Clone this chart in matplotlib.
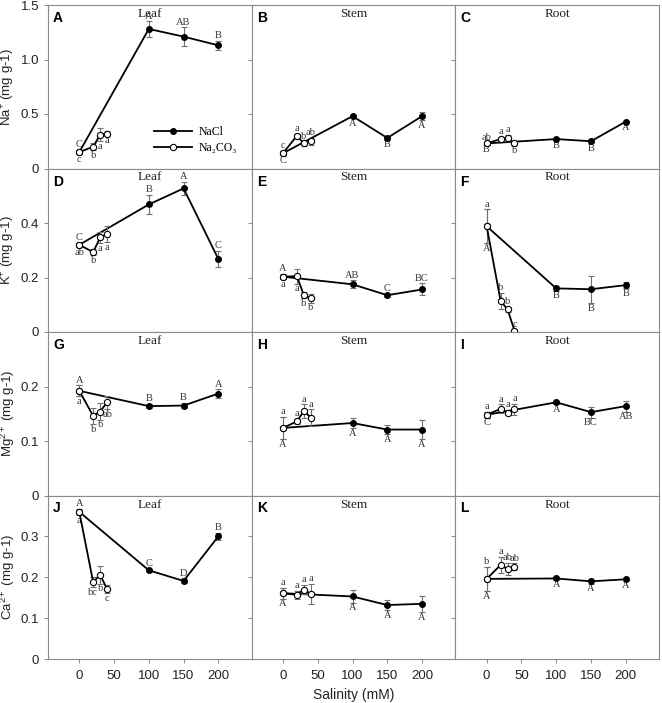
import matplotlib
matplotlib.use('Agg')
import matplotlib.pyplot as plt
from matplotlib.ticker import FuncFormatter

plt.rcParams['font.family'] = ['Liberation Sans', 'DejaVu Sans']
plt.rcParams['mathtext.fontset'] = 'custom'
plt.rcParams['mathtext.rm'] = 'Liberation Sans'
plt.rcParams['mathtext.it'] = 'Liberation Sans:italic'

# ---------------- data ----------------
nacl_x = [0, 100, 150, 200]
na2co3_x = [0, 20, 30, 40]
x_ticks = [0, 50, 100, 150, 200]
panel_ids = ['A', 'B', 'C', 'D', 'E', 'F', 'G', 'H', 'I', 'J', 'K', 'L']
tissues = ['Leaf', 'Stem', 'Root']
ion_labels = ['Na$^{+}$ (mg g-1)', 'K$^{+}$ (mg g-1)', 'Mg$^{2+}$ (mg g-1)', 'Ca$^{2+}$ (mg g-1)']
row_ylims = [1.5, 0.6, 0.3, 0.4]
row_yticks = [[0, 0.5, 1.0, 1.5], [0, 0.2, 0.4], [0, 0.1, 0.2], [0, 0.1, 0.2, 0.3]]
series_names = ['NaCl', 'Na\u2082CO\u2083']

# Na+
na_leaf_nacl = [0.15, 1.28, 1.21, 1.13]
na_leaf_nacl_err = [0.02, 0.07, 0.085, 0.04]
na_leaf_nacl_let = ['C', 'A', 'AB', 'B']
na_leaf_na2co3 = [0.15, 0.20, 0.31, 0.32]
na_leaf_na2co3_err = [0.02, 0.03, 0.06, 0.02]
na_leaf_na2co3_let = ['c', 'b', 'a', 'a']

na_stem_nacl = [0.14, 0.48, 0.28, 0.48]
na_stem_nacl_err = [0.02, 0.015, 0.015, 0.035]
na_stem_nacl_let = ['C', 'A', 'B', 'A']
na_stem_na2co3 = [0.14, 0.30, 0.23, 0.25]
na_stem_na2co3_err = [0.02, 0.02, 0.02, 0.03]
na_stem_na2co3_let = ['c', 'a', 'b', 'ab']

na_root_nacl = [0.23, 0.27, 0.25, 0.43]
na_root_nacl_err = [0.01, 0.01, 0.02, 0.01]
na_root_nacl_let = ['B', 'B', 'B', 'A']
na_root_na2co3 = [0.23, 0.27, 0.28, 0.23]
na_root_na2co3_err = [0.01, 0.02, 0.03, 0.02]
na_root_na2co3_let = ['ab', 'a', 'a', 'b']

# K+
k_leaf_nacl = [0.32, 0.468, 0.527, 0.268]
k_leaf_nacl_err = [0.008, 0.035, 0.025, 0.03]
k_leaf_nacl_let = ['C', 'B', 'A', 'C']
k_leaf_na2co3 = [0.32, 0.293, 0.347, 0.36]
k_leaf_na2co3_err = [0.008, 0.01, 0.02, 0.03]
k_leaf_na2co3_let = ['ab', 'b', 'a', 'a']

k_stem_nacl = [0.203, 0.175, 0.135, 0.156]
k_stem_nacl_err = [0.01, 0.015, 0.006, 0.022]
k_stem_nacl_let = ['A', 'AB', 'C', 'BC']
k_stem_na2co3 = [0.203, 0.205, 0.135, 0.123]
k_stem_na2co3_err = [0.01, 0.028, 0.01, 0.015]
k_stem_na2co3_let = ['a', 'a', 'b', 'b']

k_root_nacl = [0.388, 0.16, 0.157, 0.172]
k_root_nacl_err = [0.062, 0.008, 0.05, 0.01]
k_root_nacl_let = ['A', 'B', 'B', 'B']
k_root_na2co3 = [0.388, 0.114, 0.083, 0.005]
k_root_na2co3_err = [0.062, 0.03, 0.01, 0.005]
k_root_na2co3_let = ['a', 'b', 'b', 'c']

# Mg2+
mg_leaf_nacl = [0.192, 0.164, 0.165, 0.187]
mg_leaf_nacl_err = [0.01, 0.004, 0.005, 0.008]
mg_leaf_nacl_let = ['A', 'B', 'B', 'A']
mg_leaf_na2co3 = [0.192, 0.146, 0.154, 0.171]
mg_leaf_na2co3_err = [0.01, 0.015, 0.015, 0.012]
mg_leaf_na2co3_let = ['a', 'b', 'b', 'ab']

mg_stem_nacl = [0.124, 0.133, 0.121, 0.121]
mg_stem_nacl_err = [0.02, 0.01, 0.008, 0.018]
mg_stem_nacl_let = ['A', 'A', 'A', 'A']
mg_stem_na2co3 = [0.124, 0.136, 0.155, 0.143]
mg_stem_na2co3_err = [0.02, 0.005, 0.012, 0.015]
mg_stem_na2co3_let = ['a', 'a', 'a', 'a']

mg_root_nacl = [0.148, 0.171, 0.153, 0.164]
mg_root_nacl_err = [0.005, 0.003, 0.01, 0.01]
mg_root_nacl_let = ['C', 'A', 'BC', 'AB']
mg_root_na2co3 = [0.148, 0.159, 0.152, 0.158]
mg_root_na2co3_err = [0.005, 0.008, 0.005, 0.01]
mg_root_na2co3_let = ['a', 'a', 'a', 'a']

# Ca2+
ca_leaf_nacl = [0.36, 0.217, 0.191, 0.30]
ca_leaf_nacl_err = [0.008, 0.004, 0.006, 0.008]
ca_leaf_nacl_let = ['A', 'C', 'D', 'B']
ca_leaf_na2co3 = [0.36, 0.188, 0.206, 0.171]
ca_leaf_na2co3_err = [0.008, 0.012, 0.022, 0.01]
ca_leaf_na2co3_let = ['a', 'bc', 'b', 'c']

ca_stem_nacl = [0.161, 0.153, 0.132, 0.135]
ca_stem_nacl_err = [0.013, 0.015, 0.012, 0.02]
ca_stem_nacl_let = ['A', 'A', 'A', 'A']
ca_stem_na2co3 = [0.161, 0.157, 0.17, 0.159]
ca_stem_na2co3_err = [0.013, 0.01, 0.012, 0.025]
ca_stem_na2co3_let = ['a', 'a', 'a', 'a']

ca_root_nacl = [0.196, 0.197, 0.19, 0.195]
ca_root_nacl_err = [0.03, 0.003, 0.006, 0.003]
ca_root_nacl_let = ['A', 'A', 'A', 'A']
ca_root_na2co3 = [0.196, 0.23, 0.22, 0.226]
ca_root_na2co3_err = [0.03, 0.02, 0.015, 0.008]
ca_root_na2co3_let = ['b', 'a', 'ab', 'ab']

# letter placement: 'u' above, 'd' below (per panel, per series)
nacl_pos = ['uuuu', 'dddd', 'dddd',
            'uuuu', 'uuuu', 'dddd',
            'uuuu', 'dddd', 'dddd',
            'uuuu', 'dddd', 'dddd']
na2co3_pos = ['dddd', 'uuuu', 'uuud',
              'dddd', 'dddd', 'uuuu',
              'dddd', 'uuuu', 'uuuu',
              'dddd', 'uuuu', 'uuuu']

panels = [
    (na_leaf_nacl, na_leaf_nacl_err, na_leaf_nacl_let, na_leaf_na2co3, na_leaf_na2co3_err, na_leaf_na2co3_let),
    (na_stem_nacl, na_stem_nacl_err, na_stem_nacl_let, na_stem_na2co3, na_stem_na2co3_err, na_stem_na2co3_let),
    (na_root_nacl, na_root_nacl_err, na_root_nacl_let, na_root_na2co3, na_root_na2co3_err, na_root_na2co3_let),
    (k_leaf_nacl, k_leaf_nacl_err, k_leaf_nacl_let, k_leaf_na2co3, k_leaf_na2co3_err, k_leaf_na2co3_let),
    (k_stem_nacl, k_stem_nacl_err, k_stem_nacl_let, k_stem_na2co3, k_stem_na2co3_err, k_stem_na2co3_let),
    (k_root_nacl, k_root_nacl_err, k_root_nacl_let, k_root_na2co3, k_root_na2co3_err, k_root_na2co3_let),
    (mg_leaf_nacl, mg_leaf_nacl_err, mg_leaf_nacl_let, mg_leaf_na2co3, mg_leaf_na2co3_err, mg_leaf_na2co3_let),
    (mg_stem_nacl, mg_stem_nacl_err, mg_stem_nacl_let, mg_stem_na2co3, mg_stem_na2co3_err, mg_stem_na2co3_let),
    (mg_root_nacl, mg_root_nacl_err, mg_root_nacl_let, mg_root_na2co3, mg_root_na2co3_err, mg_root_na2co3_let),
    (ca_leaf_nacl, ca_leaf_nacl_err, ca_leaf_nacl_let, ca_leaf_na2co3, ca_leaf_na2co3_err, ca_leaf_na2co3_let),
    (ca_stem_nacl, ca_stem_nacl_err, ca_stem_nacl_let, ca_stem_na2co3, ca_stem_na2co3_err, ca_stem_na2co3_let),
    (ca_root_nacl, ca_root_nacl_err, ca_root_nacl_let, ca_root_na2co3, ca_root_na2co3_err, ca_root_na2co3_let),
]

# ---------------- figure ----------------
W, H = 662, 703
fig = plt.figure(figsize=(W / 100, H / 100), dpi=100)
left0, pw, top0, ph = 48, 203.7, 5, 163.5
spine_col = '#8a8a8a'
err_col = '#707070'
serif = ['Liberation Serif', 'DejaVu Serif']


def fmt(v, pos):
    if abs(v) < 1e-9:
        return '0'
    return ('%.1f' % v)


def put_letters(ax, xs, ys, es, lets, pos):
    for x, y, e, t, p in zip(xs, ys, es, lets, pos):
        if p == 'u':
            ax.annotate(t, (x, y + e), xytext=(0, 0.5), textcoords='offset points',
                        ha='center', va='bottom', fontsize=7.5, family=serif, color='#333333')
        else:
            ax.annotate(t, (x, y - e), xytext=(0, -0.5), textcoords='offset points',
                        ha='center', va='top', fontsize=7.5, family=serif, color='#333333')


for i, pid in enumerate(panel_ids):
    r, c = divmod(i, 3)
    ax = fig.add_axes([(left0 + c * pw) / W, 1 - (top0 + (r + 1) * ph) / H, pw / W, ph / H])
    nv, ne, nl, cv, ce, cl = panels[i]

    e1 = ax.errorbar(nacl_x, nv, yerr=ne, color='black', lw=1.3, marker='o', ms=4,
                     mfc='black', mec='black', ecolor=err_col, elinewidth=0.8,
                     capsize=2.3, capthick=0.8, zorder=3)
    e2 = ax.errorbar(na2co3_x, cv, yerr=ce, color='black', lw=1.3, marker='o', ms=4.5,
                     mfc='white', mec='black', mew=0.8, ecolor=err_col, elinewidth=0.8,
                     capsize=2.3, capthick=0.8, zorder=4)

    put_letters(ax, nacl_x, nv, ne, nl, nacl_pos[i])
    put_letters(ax, na2co3_x, cv, ce, cl, na2co3_pos[i])

    ax.set_xlim(-45, 248)
    ax.set_ylim(0, row_ylims[r])
    ax.set_xticks(x_ticks)
    ax.set_yticks(row_yticks[r])
    ax.yaxis.set_major_formatter(FuncFormatter(fmt))
    ax.tick_params(direction='out', length=3, width=0.7, color=spine_col,
                   labelsize=9.5, labelcolor='#222222')
    if c != 0:
        ax.tick_params(labelleft=False)
    else:
        ymid = 1 - (top0 + (r + 0.5) * ph) / H
        fig.text(8 / W, ymid, ion_labels[r], rotation=90, rotation_mode='anchor',
                 ha='center', va='center', fontsize=9.5, color='#222222')
    if r != 3:
        ax.tick_params(labelbottom=False)
    else:
        ax.tick_params(axis='x', pad=5)
    for s in ax.spines.values():
        s.set_color(spine_col)
        s.set_linewidth(0.8)

    ax.text(0.5, 1 - 3 / ph, tissues[c], transform=ax.transAxes, ha='center', va='top',
            fontsize=9.5, family=serif, color='#222222')
    ax.text(5 / pw, 1 - 6 / ph, pid, transform=ax.transAxes, ha='left', va='top',
            fontsize=10, fontweight='bold', color='black')

    if i == 0:
        ax.legend(handles=[e1.lines[0], e2.lines[0]], labels=series_names,
                  loc='lower right', bbox_to_anchor=((243 - 48) / pw, (168.5 - 160) / ph),
                  frameon=False, borderpad=0, handlelength=3.2, handletextpad=0.6,
                  labelspacing=0.35, prop={'family': serif, 'size': 8.5})

fig.text((left0 + 1.5 * pw) / W, 1 - 695 / H, 'Salinity (mM)', ha='center', va='center',
         fontsize=10, color='#222222')

fig.savefig('out.png', dpi=100)
